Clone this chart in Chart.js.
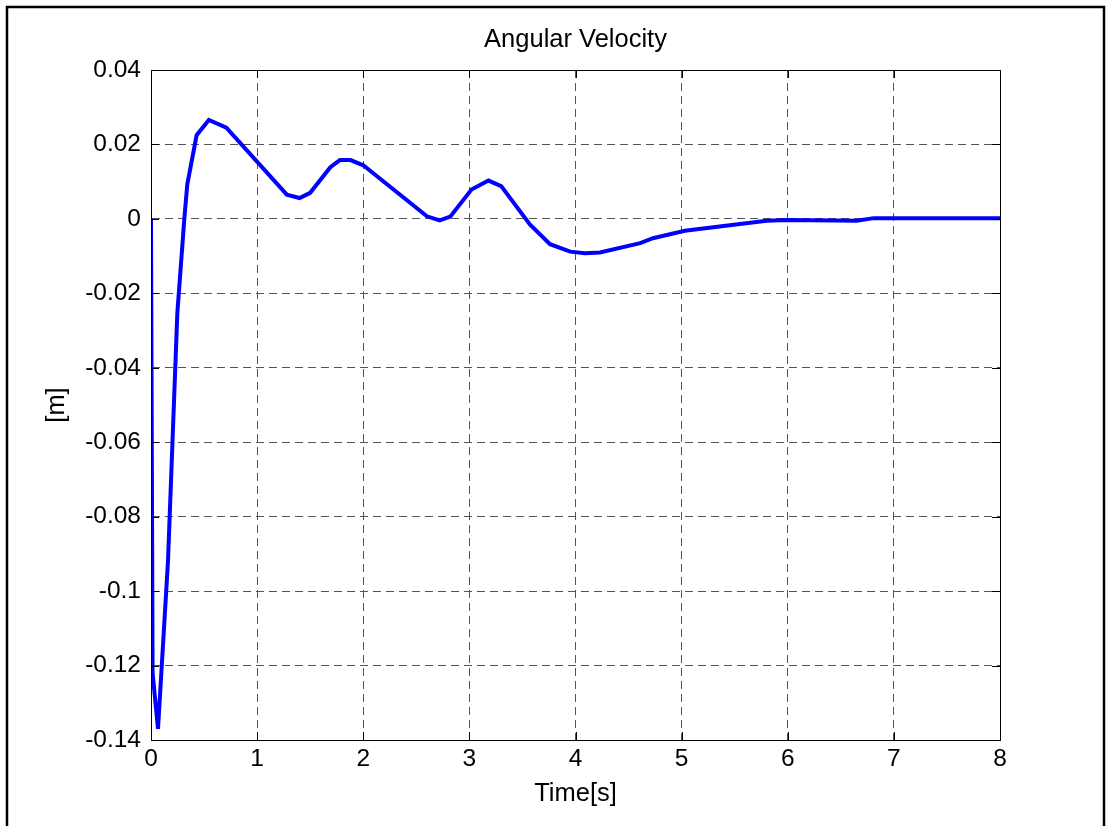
<!DOCTYPE html>
<html>
<head>
<meta charset="utf-8">
<title>Angular Velocity</title>
<script src="https://cdn.jsdelivr.net/npm/chart.js@4/dist/chart.umd.min.js"></script>
<style>
  html, body { margin: 0; padding: 0; background: #fff; }
  canvas { display: block; }
</style>
</head>
<body>
<canvas id="myChart" width="1107" height="826"></canvas>
<script>
// time [s] and response values
const times  = [0, 0.015, 0.066, 0.16, 0.248, 0.314, 0.342, 0.43, 0.545, 0.71,
                1.28, 1.40, 1.50, 1.69, 1.78, 1.88, 2.0, 2.6, 2.72, 2.82,
                3.02, 3.18, 3.30, 3.57, 3.76, 3.95, 4.09, 4.23, 4.61, 4.73,
                5.03, 5.8, 5.99, 6.65, 6.81, 8];
const values = [0, -0.122, -0.137, -0.092, -0.0254, 0, 0.0093, 0.0225, 0.0266, 0.0245,
                0.0065, 0.0056, 0.0070, 0.0139, 0.0158, 0.0158, 0.0144, 0.0007, -0.0004, 0.0006,
                0.0079, 0.0103, 0.0088, -0.0015, -0.0068, -0.0088, -0.0092, -0.009, -0.0065, -0.0052,
                -0.0032, -0.0005, -0.0003, -0.0005, 0.0002, 0.0002];

const xTicks = [0, 1, 2, 3, 4, 5, 6, 7, 8];
const yTicks = [0.04, 0.02, 0, -0.02, -0.04, -0.06, -0.08, -0.1, -0.12, -0.14];

const chartTitle = 'Angular Velocity';
const FONT = 'Liberation Sans, Arial, sans-serif';

// title over the plot, box around it, small inward ticks and the outer frame
const boxPlugin = {
    id: 'box',
    afterDraw(chart) {
        const { ctx, chartArea: a, scales: { x, y } } = chart;
        ctx.save();
        ctx.fillStyle = '#000';
        ctx.font = '25.5px ' + FONT;
        ctx.textAlign = 'center';
        ctx.textBaseline = 'middle';
        ctx.fillText(chartTitle, (a.left + a.right) / 2, 40);

        ctx.strokeStyle = '#000';
        ctx.lineWidth = 1;
        ctx.setLineDash([]);
        ctx.strokeRect(a.left + 0.5, a.top + 0.5, a.right - a.left, a.bottom - a.top);
        const len = 8;
        ctx.beginPath();
        xTicks.forEach(v => {
            const px = Math.round(x.getPixelForValue(v)) + 0.5;
            ctx.moveTo(px, a.bottom); ctx.lineTo(px, a.bottom - len);
            ctx.moveTo(px, a.top); ctx.lineTo(px, a.top + len);
        });
        yTicks.forEach(v => {
            const py = Math.round(y.getPixelForValue(v)) + 0.5;
            ctx.moveTo(a.left, py); ctx.lineTo(a.left + len, py);
            ctx.moveTo(a.right, py); ctx.lineTo(a.right - len, py);
        });
        ctx.stroke();
        ctx.lineWidth = 2.5;
        ctx.strokeRect(7, 7, 1097, 900);
        ctx.restore();
    }
};

const ctx = document.getElementById('myChart').getContext('2d');
const myChart = new Chart(ctx, {
    type: 'line',
    data: {
        datasets: [{
            data: times.map((t, i) => ({ x: t, y: values[i] })),
            borderColor: '#0000ff',
            borderWidth: 4,
            pointRadius: 0,
            tension: 0,
            fill: false
        }]
    },
    options: {
        responsive: false,
        animation: false,
        devicePixelRatio: 1,
        layout: { padding: { left: 0, right: 107, top: 70, bottom: 0 } },
        plugins: {
            legend: { display: false },
            tooltip: { enabled: false },
            title: { display: false }
        },
        scales: {
            x: {
                type: 'linear',
                min: 0,
                max: 8,
                afterBuildTicks: s => { s.ticks = xTicks.map(v => ({ value: v })); },
                afterFit: s => { s.height = 86; },
                ticks: {
                    color: '#000',
                    padding: 5,
                    maxRotation: 0,
                    font: { family: FONT, size: 24.5 },
                    callback: v => String(v)
                },
                grid: {
                    color: '#555',
                    drawTicks: false,
                    lineWidth: 1
                },
                border: { display: true, color: '#000', dash: [8, 5] },
                title: {
                    display: true,
                    text: 'Time[s]',
                    color: '#000',
                    font: { family: FONT, size: 25.5 },
                    padding: { top: 0, bottom: 17 }
                }
            },
            y: {
                type: 'linear',
                min: -0.14,
                max: 0.04,
                afterBuildTicks: s => { s.ticks = yTicks.map(v => ({ value: v })); },
                afterFit: s => { s.width = 151; },
                ticks: {
                    color: '#000',
                    padding: 10,
                    font: { family: FONT, size: 24.5 },
                    callback: v => String(Number(v.toFixed(2)))
                },
                grid: {
                    color: '#555',
                    drawTicks: false,
                    lineWidth: 1
                },
                border: { display: true, color: '#000', dash: [8, 5] },
                title: {
                    display: true,
                    text: '[m]',
                    color: '#000',
                    font: { family: FONT, size: 25.5 },
                    padding: { top: 42, bottom: 0 }
                }
            }
        }
    },
    plugins: [boxPlugin]
});
</script>
</body>
</html>
